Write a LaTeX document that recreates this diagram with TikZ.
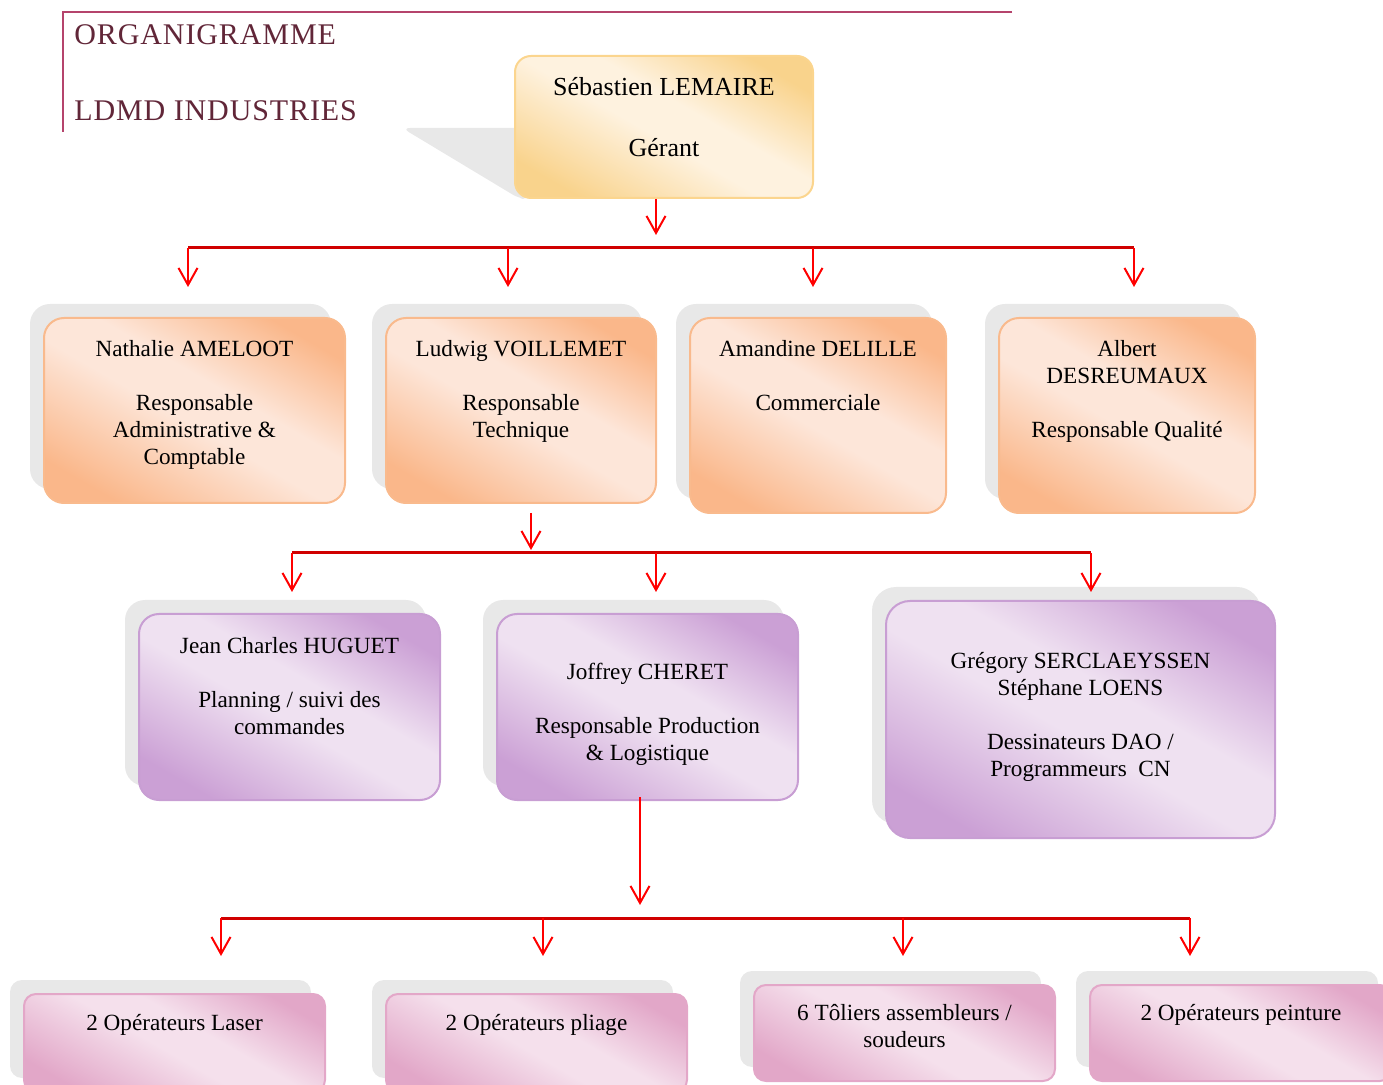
\documentclass[tikz,border=0pt]{standalone}
\usepackage{fontspec}
\setmainfont{Liberation Serif}
\usepackage{tikz}
\usetikzlibrary{arrows.meta,positioning,fit,shadows}

\definecolor{titre}{HTML}{612638}
\definecolor{filet}{HTML}{B5446C}
\definecolor{gris}{HTML}{E8E8E8}
\definecolor{rouge}{HTML}{D00000}
\definecolor{orFonce}{HTML}{F9D38C}
\definecolor{orClair}{HTML}{FEF2DF}
\definecolor{orBord}{HTML}{FBD58E}
\definecolor{abFonce}{HTML}{FAB78A}
\definecolor{abClair}{HTML}{FDE6D9}
\definecolor{abBord}{HTML}{F9BA8D}
\definecolor{viFonce}{HTML}{CBA0D5}
\definecolor{viClair}{HTML}{EFE1F1}
\definecolor{viBord}{HTML}{C89ED3}
\definecolor{roFonce}{HTML}{E2A7C8}
\definecolor{roClair}{HTML}{F5E0EC}
\definecolor{roBord}{HTML}{E3A7C8}

\pgfdeclareverticalshading{bandeor}{100bp}{color(0bp)=(orFonce); color(24bp)=(orFonce); color(47bp)=(orClair); color(57bp)=(orClair); color(76bp)=(orFonce); color(100bp)=(orFonce)}
\pgfdeclareverticalshading{bandeabricot}{100bp}{color(0bp)=(abFonce); color(24bp)=(abFonce); color(47bp)=(abClair); color(57bp)=(abClair); color(76bp)=(abFonce); color(100bp)=(abFonce)}
\pgfdeclareverticalshading{bandeviolet}{100bp}{color(0bp)=(viFonce); color(24bp)=(viFonce); color(47bp)=(viClair); color(57bp)=(viClair); color(76bp)=(viFonce); color(100bp)=(viFonce)}
\pgfdeclareverticalshading{banderose}{100bp}{color(0bp)=(roFonce); color(24bp)=(roFonce); color(47bp)=(roClair); color(57bp)=(roClair); color(76bp)=(roFonce); color(100bp)=(roFonce)}

\tikzset{%
  poste/.style={draw,shade,line width=1pt,inner sep=0pt,rounded corners=10pt,shading angle=-30},
  ombre/.style={general shadow={shadow xshift=-7pt,shadow yshift=7pt,fill=gris}},
  arrow/.style={-{Straight Barb[length=8.5pt,width=9.5pt]}, draw=red, line width=1pt},
  bus/.style={draw=rouge, line width=1.5pt}%
}

\begin{document}
\begin{tikzpicture}[
    x=0.5pt, y=-0.5pt,
    font=\fontsize{11.6}{13.5}\selectfont,
    gerant/.style={
        poste,
        shading=bandeor,
        draw=orBord,
        rounded corners=8pt
    },
    respo/.style={
        poste, ombre,
        shading=bandeabricot,
        draw=abBord
    },
    equipe/.style={
        poste, ombre,
        shading=bandeviolet,
        draw=viBord
    },
    atelier/.style={
        poste, ombre,
        shading=banderose,
        draw=roBord,
        rounded corners=6pt
    },
    txt/.style={align=center, inner sep=0pt},
    titre/.style={text=titre, inner sep=0pt,
        font=\fontsize{15}{18}\selectfont\addfontfeatures{LetterSpace=3}}
]
\useasboundingbox (0,0) rectangle (1383,1085);

% en-tete
\draw[filet, line width=0.8pt] (1012,12) -- (63,12) -- (63,132);
\node[titre, anchor=base west] (org) at (74,45) {ORGANIGRAMME};
\node[titre, anchor=base west] (ldmd) at (74,121) {LDMD INDUSTRIES};

% gerant
\fill[gris, rounded corners=4pt] (402,128) -- (528,128) -- (528,199) -- (520,199) -- cycle;
\node[gerant, fit={(515,56) (813,198)}] (lemaire) {};
\node[txt, font=\fontsize{13}{15}\selectfont, below=10.9pt of lemaire.north] (lemaire-t)
{S\'ebastien LEMAIRE\\[15.5pt]G\'erant};

% responsables
\node[respo, fit={(44,318) (345,503)}] (ameloot) {};
\node[txt, below=11.3pt of ameloot.north] (ameloot-t)
{Nathalie AMELOOT\\[13.5pt]Responsable\\Administrative \&\\Comptable};
\node[respo, fit={(386,318) (656,503)}] (voillemet) {};
\node[txt, below=11.3pt of voillemet.north] (voillemet-t)
{Ludwig VOILLEMET\\[13.5pt]Responsable\\Technique};
\node[respo, fit={(690,318) (946,513)}] (delille) {};
\node[txt, below=11.3pt of delille.north] (delille-t)
{Amandine DELILLE\\[13.5pt]Commerciale};
\node[respo, fit={(999,318) (1255,513)}] (desreumaux) {};
\node[txt, below=11.3pt of desreumaux.north] (desreumaux-t)
{Albert\\DESREUMAUX\\[13.5pt]Responsable Qualit\'e};

% equipe technique
\node[equipe, fit={(139,614) (440,800)}] (huguet) {};
\node[txt, below=11.9pt of huguet.north] (huguet-t)
{Jean Charles HUGUET\\[13.5pt]Planning / suivi des\\commandes};
\node[equipe, fit={(497,614) (798,800)}] (cheret) {};
\node[txt, below=24.9pt of cheret.north] (cheret-t)
{Joffrey CHERET\\[13.5pt]Responsable Production\\\& Logistique};
\node[equipe, rounded corners=12pt, fit={(886,601) (1275,838)}] (dao) {};
\node[txt, below=25.9pt of dao.north] (dao-t)
{Gr\'egory SERCLAEYSSEN\\St\'ephane LOENS\\[13.5pt]Dessinateurs DAO /\\Programmeurs~~CN};

% atelier
\node[atelier, fit={(24,994) (325,1092)}] (laser) {};
\node[txt, below=10.4pt of laser.north] (laser-t) {2 Op\'erateurs Laser};
\node[atelier, fit={(386,994) (687,1092)}] (pliage) {};
\node[txt, below=10.4pt of pliage.north] (pliage-t) {2 Op\'erateurs pliage};
\node[atelier, fit={(754,985) (1055,1081)}] (toliers) {};
\node[txt, below=10.2pt of toliers.north] (toliers-t) {6 T\^oliers assembleurs /\\soudeurs};
\node[atelier, fit={(1090,985) (1392,1081)}] (peinture) {};
\node[txt, below=10.2pt of peinture.north] (peinture-t) {2 Op\'erateurs peinture};

% liaisons
\coordinate (g1) at (656,235);
\coordinate (bus1w) at (188,248);
\coordinate (bus1e) at (1134,248);
\coordinate (t1) at (188,287);
\coordinate (t2) at (508,287);
\coordinate (t3) at (813,287);
\coordinate (t4) at (1134,287);
\draw[arrow] (lemaire.south -| g1) -- (g1);
\draw[bus] (bus1w) -- (bus1e);
\foreach \t in {t1,t2,t3,t4}
  \draw[arrow] (\t |- bus1w) -- (\t);

\coordinate (v1) at (531,550);
\coordinate (bus2w) at (292,553);
\coordinate (bus2e) at (1091,553);
\coordinate (u1) at (292,592);
\coordinate (u2) at (656,592);
\coordinate (u3) at (1091,592);
\draw[arrow] ([yshift=-4.5pt]voillemet.south -| v1) -- (v1);
\draw[bus] (bus2w) -- (bus2e);
\foreach \u in {u1,u2,u3}
  \draw[arrow] (\u |- bus2w) -- (\u);

\coordinate (c1) at (640,905);
\coordinate (bus3w) at (221,918);
\coordinate (bus3e) at (1190,918);
\coordinate (s1) at (221,956);
\coordinate (s2) at (543,956);
\coordinate (s3) at (903,956);
\coordinate (s4) at (1190,956);
\draw[arrow] ([yshift=2pt]cheret.south -| c1) -- (c1);
\draw[bus] (bus3w) -- (bus3e);
\foreach \s in {s1,s2,s3,s4}
  \draw[arrow] (\s |- bus3w) -- (\s);

\end{tikzpicture}
\end{document}
